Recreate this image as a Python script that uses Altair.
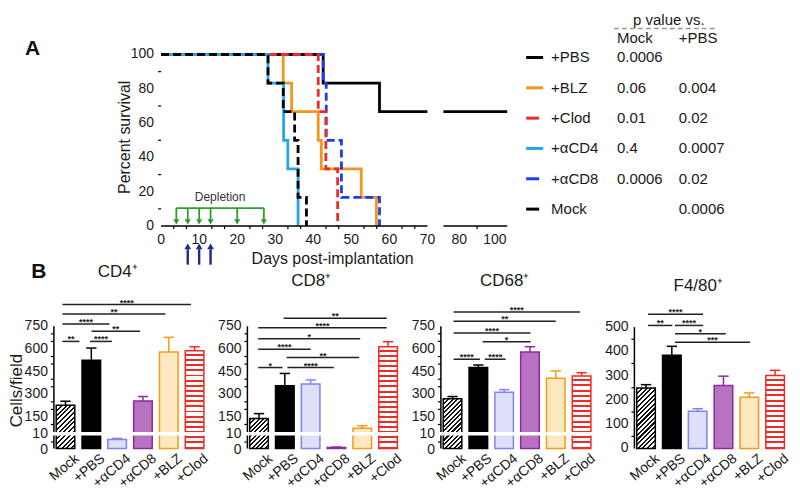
import altair as alt
import pandas as pd
import numpy as np

FONT = "Liberation Sans"
INK = "#1a1a1a"

# ------------------------------------------------------------------ Panel A data
surv_groups = ["+PBS", "+BLZ", "+Clod", "+αCD4", "+αCD8", "Mock"]
surv_colors = ["#000000", "#f7941d", "#ee2b24", "#27a4ef", "#1c3cf0", "#000000"]
surv_dashed = [False, False, True, False, True, True]

pbs_day = [0, 42.6, 57.4, 70]
pbs_pct = [100, 83.3, 66.7, 66.7]
pbs_late_day = [71, 107]
pbs_late_pct = [66.7, 66.7]
blz_day = [0, 32.1, 34.3, 41.3, 42.1, 52.6, 56.6]
blz_pct = [100, 83.3, 66.7, 50, 33.3, 16.7, 0]
clod_day = [0, 41.3, 43.3, 46.4]
clod_pct = [100, 66.7, 33.3, 0]
acd4_day = [0, 28.1, 32.2, 33.3, 36.0]
acd4_pct = [100, 83.3, 50, 33.3, 0]
acd8_day = [0, 42.6, 43.4, 47.4, 57.4]
acd8_pct = [100, 83.3, 50, 16.7, 0]
mock_day = [0, 28.1, 32.1, 35.1, 36.0, 38.2]
mock_pct = [100, 83.3, 66.7, 50, 16.7, 0]

p_vs_mock = ["0.0006", "0.06", "0.01", "0.4", "0.0006", ""]
p_vs_pbs = ["", "0.004", "0.02", "0.0007", "0.02", "0.0006"]

depletion_days = [4, 7, 10, 13, 20, 27]
treat_days = [7, 10, 13]

surv_xticks = [0, 10, 20, 30, 40, 50, 60, 70, 80, 100]
surv_yticks = [0, 20, 40, 60, 80, 100]

# ------------------------------------------------------------------ Panel B data
cats = ["Mock", "+PBS", "+αCD4", "+αCD8", "+BLZ", "+Clod"]
bar_fill = ["#ffffff", "#000000", "#dde0f8", "#b872c2", "#fde8bf", "#ffffff"]
bar_edge = ["#000000", "#000000", "#7f84f0", "#8f2a9e", "#f49b1c", "#ee2b24"]

cd4_mean = [227, 526, 7, 256, 580, 588]
cd4_sem = [27, 80, 0.8, 29, 97, 27]
cd8_mean = [139, 357, 368, 0.8, 75, 615]
cd8_sem = [33, 81, 27, 0.3, 17, 33]
cd68_mean = [270, 477, 314, 580, 406, 421]
cd68_sem = [15, 17, 17, 35, 48, 22]
f480_mean = [249, 384, 153, 260, 211, 301]
f480_sem = [14, 37, 11, 38, 18, 21]

cd4_sig_from = [-0.12, -0.12, -0.12, 1.01, -0.12, 0.95]
cd4_sig_to = [4.86, 3.87, 1.70, 2.89, 0.54, 1.80]
cd4_sig_y = [894, 832, 765, 717, 650, 650]
cd4_sig_txt = ["****", "**", "****", "**", "**", "****"]

cd8_sig_from = [0.95, -0.03, -0.03, -0.03, 1.07, -0.03, 1.10]
cd8_sig_to = [4.95, 4.95, 3.92, 2.0, 3.88, 0.91, 2.9]
cd8_sig_y = [804, 740, 667, 598, 543, 477, 477]
cd8_sig_txt = ["**", "****", "*", "****", "**", "*", "****"]

cd68_sig_from = [0.04, 0.04, 0.04, 1.17, 0.04, 1.25]
cd68_sig_to = [4.94, 4.0, 3.02, 3.02, 1.06, 2.06]
cd68_sig_y = [844, 783, 706, 647, 532, 532]
cd68_sig_txt = ["****", "**", "****", "*", "****", "****"]

f480_sig_from = [0.08, 0.08, 1.12, 1.12, 1.12]
f480_sig_to = [2.21, 1.02, 2.21, 3.09, 4.03]
f480_sig_y = [553, 507, 507, 473, 438]
f480_sig_txt = ["****", "**", "****", "*", "***"]

# ------------------------------------------------------------------ helpers
ONE = alt.Data(values=[{}])


def label(text, x, y, size=14, weight="normal", angle=0, align="center", color=INK):
    kw = dict(text=text, fontSize=size, fontWeight=weight, align=align, baseline="middle", color=color)
    if angle:
        kw["angle"] = angle
    return alt.Chart(ONE).mark_text(**kw).encode(x=alt.value(x), y=alt.value(y))


CELL = 154  # common cell width of the layout grid

# ------------------------------------------------------------------ survival chart
X0 = 107.5  # offset of the survival y axis inside its grid cell
SH = 172
xs_s = alt.Scale(domain=[0, 70, 71, 107], range=[X0, X0 + 267, X0 + 283, X0 + 347], nice=False, zero=False)
ys_s = alt.Scale(domain=[0, 100], range=[SH, 0], nice=False, zero=False)

curves = {
    "+PBS": [(pbs_day, pbs_pct), (pbs_late_day, pbs_late_pct)],
    "+BLZ": [(blz_day, blz_pct)],
    "+Clod": [(clod_day, clod_pct)],
    "+αCD4": [(acd4_day, acd4_pct)],
    "+αCD8": [(acd8_day, acd8_pct)],
    "Mock": [(mock_day, mock_pct)],
}
rows = []
for g, segs in curves.items():
    for s, (d, p) in enumerate(segs):
        for dd, pp in zip(d, p):
            rows.append(dict(group=g, seg=s, day=dd, pct=pp))
surv_df = pd.DataFrame(rows)

x_axis_s = alt.Axis(values=surv_xticks, domain=False, grid=False, tickSize=5, tickWidth=1.5,
                    tickColor="black", labels=False, title=None)
y_axis_s = alt.Axis(values=surv_yticks, domain=True, domainColor="black", domainWidth=1.5,
                    grid=False, tickSize=5, tickWidth=1.5, tickColor="black", labels=False,
                    offset=-X0, title=None)

surv_layers = []
draw_order = ["+BLZ", "+PBS", "+αCD8", "+Clod", "+αCD4", "Mock"]
for k, g in enumerate(draw_order):
    i = surv_groups.index(g)
    kw = dict(interpolate="step-after", color=surv_colors[i], strokeWidth=2.8)
    if surv_dashed[i]:
        kw["strokeDash"] = [8, 4]
    surv_layers.append(
        alt.Chart(surv_df).transform_filter(alt.datum.group == g).mark_line(**kw).encode(
            x=alt.X("day:Q", scale=xs_s, axis=x_axis_s if k == 0 else None),
            y=alt.Y("pct:Q", scale=ys_s, axis=y_axis_s if k == 0 else None),
            detail="seg:N",
        )
    )

axis_seg = pd.DataFrame({"d1": [0, 71], "d2": [70, 107], "y": [0, 0]})
surv_layers.append(alt.Chart(axis_seg).mark_rule(color="black", strokeWidth=1.5).encode(
    x=alt.X("d1:Q", scale=xs_s, axis=None), x2="d2:Q", y=alt.Y("y:Q", scale=ys_s, axis=None)))

minor_x = [m + f for m in range(0, 70, 10) for f in (3.33, 6.67)] + [90]
surv_layers.append(alt.Chart(pd.DataFrame({"day": minor_x})).mark_rule(color="black", strokeWidth=1.2).encode(
    x=alt.X("day:Q", scale=xs_s, axis=None), y=alt.value(SH), y2=alt.value(SH + 3)))
minor_y = [10, 30, 50, 70, 90]
surv_layers.append(alt.Chart(pd.DataFrame({"pct": minor_y})).mark_rule(color="black", strokeWidth=1.2).encode(
    y=alt.Y("pct:Q", scale=ys_s, axis=None), x=alt.value(X0 - 3), x2=alt.value(X0)))

ylab_df = pd.DataFrame({"pct": surv_yticks, "t": [str(v) for v in surv_yticks]})
surv_layers.append(alt.Chart(ylab_df).mark_text(fontSize=14, align="right", baseline="middle", color=INK).encode(
    x=alt.value(X0 - 7), y=alt.Y("pct:Q", scale=ys_s, axis=None), text="t:N"))
xlab_df = pd.DataFrame({"day": surv_xticks, "t": [str(v) for v in surv_xticks]})
surv_layers.append(alt.Chart(xlab_df).mark_text(fontSize=14, align="center", baseline="top", color=INK).encode(
    x=alt.X("day:Q", scale=xs_s, axis=None), y=alt.value(SH + 7), text="t:N"))

GREEN = "#2e9b2e"
NAVY = "#1b2a8c"
dep_bar = pd.DataFrame({"d1": [depletion_days[0]], "d2": [depletion_days[-1]], "y": [10.5]})
surv_layers.append(alt.Chart(dep_bar).mark_rule(color=GREEN, strokeWidth=1.8).encode(
    x=alt.X("d1:Q", scale=xs_s, axis=None), x2="d2:Q", y=alt.Y("y:Q", scale=ys_s, axis=None)))
dep_df = pd.DataFrame({"day": depletion_days, "top": 10.5, "bot": 3.5, "head": 2.4})
surv_layers.append(alt.Chart(dep_df).mark_rule(color=GREEN, strokeWidth=1.8).encode(
    x=alt.X("day:Q", scale=xs_s, axis=None), y=alt.Y("top:Q", scale=ys_s, axis=None), y2="bot:Q"))
surv_layers.append(alt.Chart(dep_df).mark_point(shape="triangle-down", filled=True, color=GREEN,
                                                size=38, opacity=1).encode(
    x=alt.X("day:Q", scale=xs_s, axis=None), y=alt.Y("head:Q", scale=ys_s, axis=None)))
dep_txt = pd.DataFrame({"day": [15.5], "pct": [16.8], "t": ["Depletion"]})
surv_layers.append(alt.Chart(dep_txt).mark_text(fontSize=12, color="#333333", baseline="middle").encode(
    x=alt.X("day:Q", scale=xs_s, axis=None), y=alt.Y("pct:Q", scale=ys_s, axis=None), text="t:N"))

tr_df = pd.DataFrame({"day": treat_days, "tail": -22.5, "neck": -13.5, "head": -11.8})
surv_layers.append(alt.Chart(tr_df).mark_rule(color=NAVY, strokeWidth=2.4).encode(
    x=alt.X("day:Q", scale=xs_s, axis=None), y=alt.Y("tail:Q", scale=ys_s, axis=None), y2="neck:Q"))
surv_layers.append(alt.Chart(tr_df).mark_point(shape="triangle-up", filled=True, color=NAVY,
                                               size=45, opacity=1).encode(
    x=alt.X("day:Q", scale=xs_s, axis=None), y=alt.Y("head:Q", scale=ys_s, axis=None)))

surv_layers.append(label("Percent survival", X0 - 36, 83, size=16, angle=270))
surv_layers.append(label("Days post-implantation", X0 + 172, 205, size=16))
surv_layers.append(label("A", -21.5, -5, size=21, weight="bold", color="#111111"))

surv = alt.layer(*surv_layers).properties(width=CELL, height=SH)

# ------------------------------------------------------------------ legend / p-value table
LX = 106.5
leg_df = pd.DataFrame({"group": surv_groups, "pm": p_vs_mock, "pp": p_vs_pbs,
                       "dash": surv_dashed})
yp = alt.Scale(type="point", domain=surv_groups, range=[3, 155], padding=0)
col = alt.Color("group:N", scale=alt.Scale(domain=surv_groups, range=surv_colors), legend=None)
leg_layers = [
    alt.Chart(leg_df).transform_filter("!datum.dash").mark_rule(strokeWidth=3).encode(
        x=alt.value(LX - 21), x2=alt.value(LX - 4), y=alt.Y("group:N", scale=yp, axis=None), color=col),
    alt.Chart(leg_df).transform_filter("datum.dash").mark_rule(strokeWidth=3).encode(
        x=alt.value(LX - 21), x2=alt.value(LX - 8), y=alt.Y("group:N", scale=yp, axis=None), color=col),
    alt.Chart(leg_df).mark_text(fontSize=15, align="left", baseline="middle", color=INK).encode(
        x=alt.value(LX + 4), y=alt.Y("group:N", scale=yp, axis=None), text="group:N"),
    alt.Chart(leg_df).mark_text(fontSize=15, align="left", baseline="middle", color=INK).encode(
        x=alt.value(LX + 70), y=alt.Y("group:N", scale=yp, axis=None), text="pm:N"),
    alt.Chart(leg_df).mark_text(fontSize=15, align="left", baseline="middle", color=INK).encode(
        x=alt.value(LX + 132), y=alt.Y("group:N", scale=yp, axis=None), text="pp:N"),
    label("p value vs.", LX + 122, -35, size=15),
    label("Mock", LX + 70, -17, size=15, align="left"),
    label("+PBS", LX + 132, -17, size=15, align="left"),
    alt.Chart(ONE).mark_rule(color="#999999", strokeWidth=1.5, strokeDash=[5, 3]).encode(
        x=alt.value(LX + 67), x2=alt.value(LX + 170), y=alt.value(-26)),
    alt.Chart(ONE).mark_rule(color="white", strokeWidth=1, strokeOpacity=0).encode(
        x=alt.value(LX + 100), x2=alt.value(LX + 101), y=alt.value(-46)),
]
legend = alt.layer(*leg_layers).properties(width=CELL, height=SH)


def filler():
    return alt.Chart(ONE).mark_point(opacity=0).encode(x=alt.value(0), y=alt.value(0)).properties(width=CELL, height=1)


# ------------------------------------------------------------------ bar panels
PW, PH = CELL, 155
BROKEN_DOM = [0, 10, 50, 750, 964.6]
BROKEN_RNG = [PH, 142, 138.5, 32.5, 0]
LIN_DOM = [0, 637]
LIN_RNG = [PH, 0]
XDOM = [-0.45, 5.5]
BW = 0.72 * PW / (XDOM[1] - XDOM[0])


def hatch(w, h, period=4.6, frac=0.45, dark="#111111", light="#ffffff"):
    n = max(1, int(round((w + h) / period)))
    c = (w + h) / (w * w + h * h)
    stops = []
    for k in range(n):
        a, b, e = k / n, (k + frac) / n, (k + 1) / n
        stops += [(a, dark), (b, dark), (b, light), (e, light)]
    return alt.LinearGradient(gradient="linear", x1=0, y1=0, x2=c * w, y2=c * h,
                              stops=[alt.GradientStop(offset=o, color=cc) for o, cc in stops])


def hstripes(h, period=5.2, frac=0.38, dark="#ee2b24", light="#ffffff"):
    n = max(1, int(round(h / period)))
    stops = []
    for k in range(n):
        a, e = k / n, (k + 1) / n
        m = e - frac / n
        stops += [(a, light), (m, light), (m, dark), (e, dark)]
    return alt.LinearGradient(gradient="linear", x1=0, y1=0, x2=0, y2=1,
                              stops=[alt.GradientStop(offset=o, color=cc) for o, cc in stops])


def make_panel(title, title_y, means, sems, sfrom, sto, sy, stxt, broken, first=False):
    dom, rng = (BROKEN_DOM, BROKEN_RNG) if broken else (LIN_DOM, LIN_RNG)
    if broken:
        major = [0, 10, 150, 300, 450, 600, 750]
        minor = [5, 100, 200, 250, 350, 400, 500, 550, 650, 700]
        segs = [(0, 10), (50, 750)]
    else:
        major = [0, 100, 200, 300, 400, 500]
        minor = [50, 150, 250, 350, 450]
        segs = [(0, 500)]
    ys = alt.Scale(domain=dom, range=rng, nice=False, zero=False)
    xs = alt.Scale(domain=XDOM, nice=False, zero=False)
    df = pd.DataFrame({"group": cats, "idx": list(range(6)), "val": means, "err": sems})
    df["lo"] = df["idx"] - 0.36
    df["hi"] = df["idx"] + 0.36
    df["top"] = df["val"] + df["err"]
    df["cl"] = df["idx"] - 0.2
    df["cr"] = df["idx"] + 0.2
    df["lx"] = df["idx"] + 0.28

    xaxis = alt.Axis(values=list(range(6)), labels=False, ticks=False, domain=True,
                     domainColor="black", domainWidth=1.5, grid=False, title=None)
    yaxis = alt.Axis(values=major, domain=False, grid=False, tickSize=5, tickWidth=1.5,
                     tickColor="black", labels=False, title=None)
    base = alt.Chart(df)
    fill_s = alt.Scale(domain=cats, range=bar_fill)
    edge_s = alt.Scale(domain=cats, range=bar_edge)

    layers = [
        base.transform_filter("datum.group != 'Mock' && datum.group != '+Clod'")
        .mark_bar(strokeWidth=1.5).encode(
            x=alt.X("lo:Q", scale=xs, axis=xaxis), x2="hi:Q",
            y=alt.Y("val:Q", scale=ys, axis=yaxis), y2=alt.Y2Datum(0),
            fill=alt.Fill("group:N", scale=fill_s, legend=None),
            stroke=alt.Stroke("group:N", scale=edge_s, legend=None)),
    ]
    h_mock = PH - float(np.interp(means[0], dom, rng))
    h_clod = PH - float(np.interp(means[5], dom, rng))
    layers.append(base.transform_filter("datum.group == 'Mock'").mark_bar(
        fill=hatch(BW, h_mock), stroke="#000000", strokeWidth=1.5).encode(
        x=alt.X("lo:Q", scale=xs, axis=None), x2="hi:Q",
        y=alt.Y("val:Q", scale=ys, axis=None), y2=alt.Y2Datum(0)))
    layers.append(base.transform_filter("datum.group == '+Clod'").mark_bar(
        fill=hstripes(h_clod), stroke="#ee2b24", strokeWidth=1.5).encode(
        x=alt.X("lo:Q", scale=xs, axis=None), x2="hi:Q",
        y=alt.Y("val:Q", scale=ys, axis=None), y2=alt.Y2Datum(0)))
    layers.append(base.mark_rule(strokeWidth=1.5).encode(
        x=alt.X("idx:Q", scale=xs, axis=None), y=alt.Y("val:Q", scale=ys, axis=None), y2="top:Q",
        stroke=alt.Stroke("group:N", scale=edge_s, legend=None)))
    layers.append(base.mark_rule(strokeWidth=1.5).encode(
        x=alt.X("cl:Q", scale=xs, axis=None), x2="cr:Q", y=alt.Y("top:Q", scale=ys, axis=None),
        stroke=alt.Stroke("group:N", scale=edge_s, legend=None)))
    if broken:
        layers.append(alt.Chart(ONE).mark_rect(fill="white").encode(
            x=alt.value(-5), x2=alt.value(PW), y=alt.YDatum(10, scale=ys, axis=None), y2=alt.Y2Datum(50)))
    seg_df = pd.DataFrame({"a": [s[0] for s in segs], "b": [s[1] for s in segs]})
    layers.append(alt.Chart(seg_df).mark_rule(color="black", strokeWidth=1.5).encode(
        x=alt.value(0), y=alt.Y("a:Q", scale=ys, axis=None), y2="b:Q"))
    layers.append(alt.Chart(pd.DataFrame({"v": minor})).mark_rule(color="black", strokeWidth=1.2).encode(
        x=alt.value(-3), x2=alt.value(0), y=alt.Y("v:Q", scale=ys, axis=None)))
    close = [0, 10] if broken else []
    ylab = pd.DataFrame({"v": [v for v in major if v not in close],
                         "t": [str(v) for v in major if v not in close]})
    layers.append(alt.Chart(ylab).mark_text(fontSize=14, align="right", baseline="middle", color=INK).encode(
        x=alt.value(-6), y=alt.Y("v:Q", scale=ys, axis=None), text="t:N"))
    for v, d in zip(close, [2, -2]):
        layers.append(alt.Chart(pd.DataFrame({"v": [v], "t": [str(v)]})).mark_text(
            fontSize=14, align="right", baseline="middle", dy=d, color=INK).encode(
            x=alt.value(-6), y=alt.Y("v:Q", scale=ys, axis=None), text="t:N"))
    layers.append(base.mark_text(fontSize=14, align="right", baseline="top", angle=320, color=INK).encode(
        x=alt.X("lx:Q", scale=xs, axis=None), y=alt.value(PH + 3), text="group:N"))
    sig = pd.DataFrame({"x1": sfrom, "x2": sto, "y": sy, "t": stxt})
    sig["xm"] = (sig["x1"] + sig["x2"]) / 2
    layers.append(alt.Chart(sig).mark_rule(color="#222222", strokeWidth=1.5).encode(
        x=alt.X("x1:Q", scale=xs, axis=None), x2="x2:Q", y=alt.Y("y:Q", scale=ys, axis=None)))
    layers.append(alt.Chart(sig).mark_text(fontSize=9, fontWeight="bold", baseline="alphabetic",
                                           dy=1, color="#222222").encode(
        x=alt.X("xm:Q", scale=xs, axis=None), y=alt.Y("y:Q", scale=ys, axis=None), text="t:N"))
    layers.append(label(title, 64, title_y, size=17))
    if first:
        layers.append(label("Cells/field", -37, 97, size=17, angle=270))
        layers.append(label("B", -15, -21.5, size=21, weight="bold", color="#111111"))
    return alt.layer(*layers).properties(width=PW, height=PH)


p1 = make_panel("CD4⁺", -21.5, cd4_mean, cd4_sem, cd4_sig_from, cd4_sig_to, cd4_sig_y, cd4_sig_txt, True, first=True)
p2 = make_panel("CD8⁺", -12.5, cd8_mean, cd8_sem, cd8_sig_from, cd8_sig_to, cd8_sig_y, cd8_sig_txt, True)
p3 = make_panel("CD68⁺", -12.5, cd68_mean, cd68_sem, cd68_sig_from, cd68_sig_to, cd68_sig_y, cd68_sig_txt, True)
p4 = make_panel("F4/80⁺", -7.5, f480_mean, f480_sem, f480_sig_from, f480_sig_to, f480_sig_y, f480_sig_txt, False)

chart = alt.concat(
    surv, filler(), legend, filler(), p1, p2, p3, p4,
    columns=4,
    spacing={"row": 68, "column": 40},
    bounds="flush",
    padding=0,
).configure(font=FONT, background="white").configure_view(strokeWidth=0)

chart.save("out.html", embed_options={"renderer": "svg", "actions": False})
